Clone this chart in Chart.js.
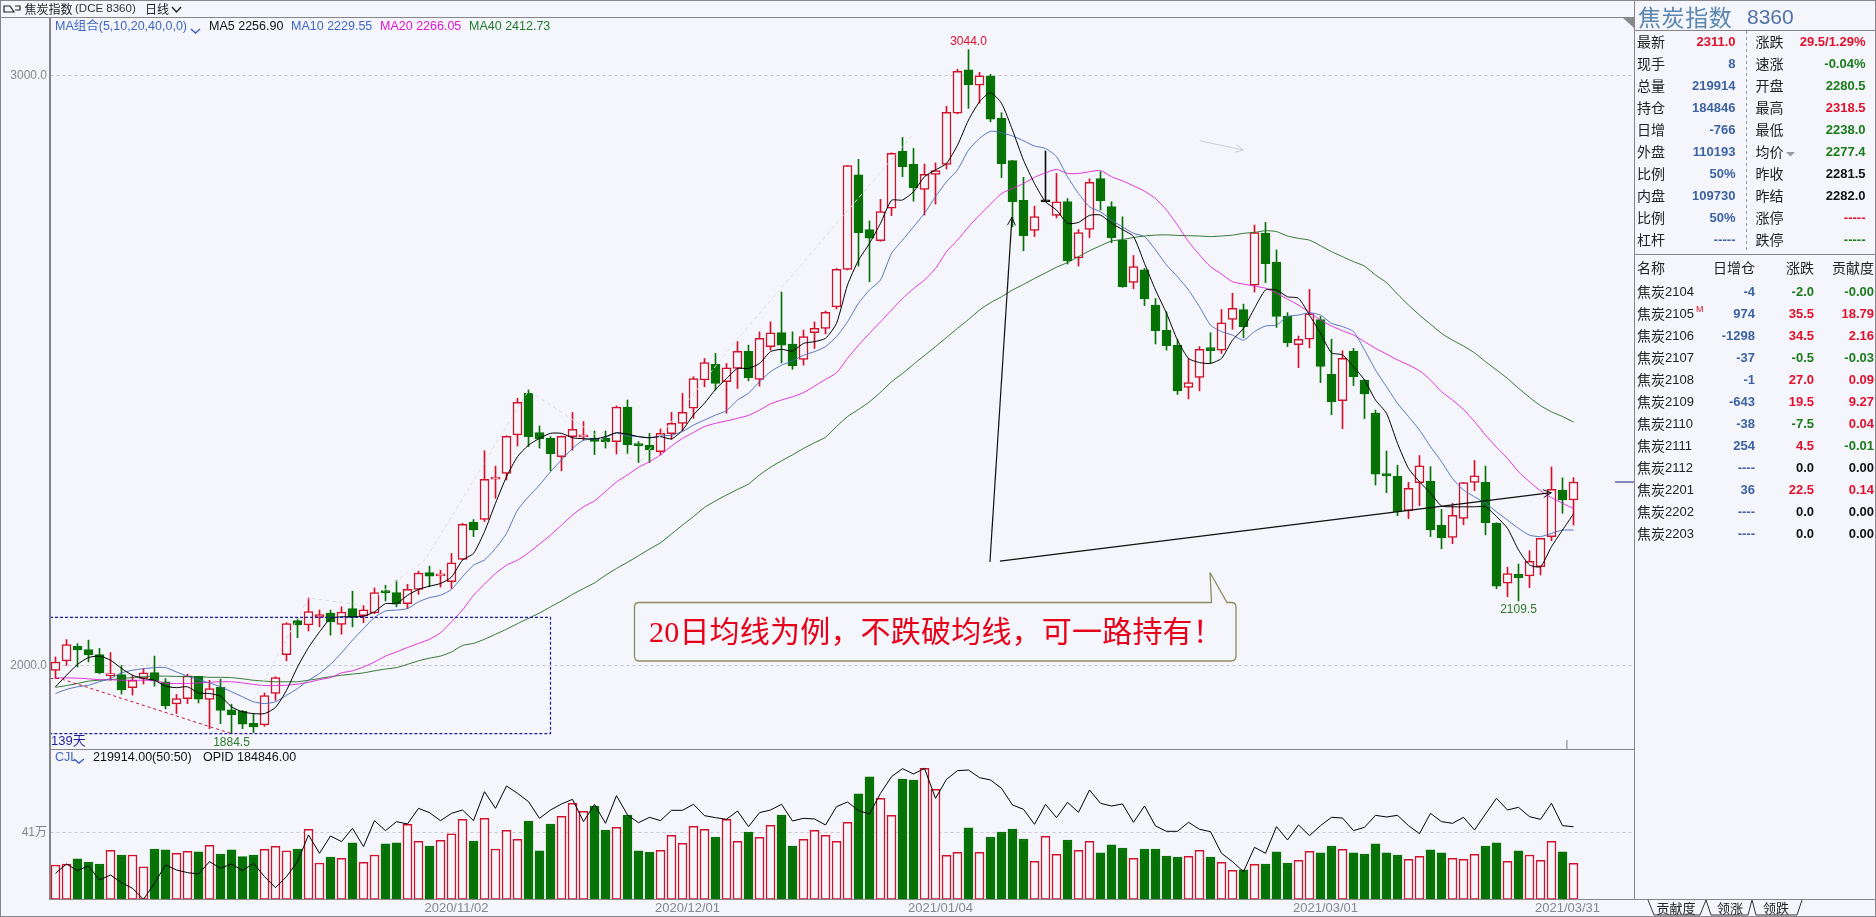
<!DOCTYPE html>
<html lang="zh">
<head>
<meta charset="utf-8">
<title>焦炭指数 日线</title>
<script src="https://cdn.jsdelivr.net/npm/chart.js@4"></script>
<style>
  html, body { margin: 0; padding: 0; background: #f5f6fb; }
  body { width: 1876px; height: 917px; position: relative; overflow: hidden; font-family: "Liberation Sans", "Noto Sans CJK SC", sans-serif; }
  canvas { position: absolute; left: 0; }
  #priceChart { top: 18px; }
  #volumeChart { top: 749px; }
  #frame, #callout { position: absolute; left: 0; top: 0; pointer-events: none; }
  .t { position: absolute; white-space: nowrap; line-height: 1; transform: translateY(-50%); }
  .r { transform: translate(-100%, -50%); }
  .c { transform: translate(-50%, -50%); }
  .cn { font-family: "Noto Sans CJK SC", sans-serif; font-size: 14px; color: #222; }
  .v { font-weight: bold; font-size: 13px; }
  .legend { font-size: 12.5px; }
</style>
</head>
<body>
<canvas id="priceChart" width="1634" height="731" style="width:1634px;height:731px"></canvas>
<canvas id="volumeChart" width="1634" height="167" style="width:1634px;height:167px"></canvas>
<svg id="frame" width="1876" height="917"></svg>
<svg id="callout" width="1876" height="917">
  <path d="M639 602.5 H1211.5 L1210 572.5 L1227 602.5 H1231 Q1236 602.5 1236 607 V656 Q1236 661 1231 661 H639 Q634.5 661 634.5 656 V607 Q634.5 602.5 639 602.5 Z" fill="#f5f6fb" stroke="#8f8a60" stroke-width="1.3"/>
</svg>
<div id="texts"></div>
<script>
const sepDays = ["03","04","07","08","09","10","11","14","15","16","17","18","21","22","23","24","25","28","29","30"];
const octDays = ["09","12","13","14","15","16","19","20","21","22","23","26","27","28","29","30"];
const novDays = ["02","03","04","05","06","09","10","11","12","13","16","17","18","19","20","23","24","25","26","27","30"];
const decDays = ["01","02","03","04","07","08","09","10","11","14","15","16","17","18","21","22","23","24","25","28","29","30","31"];
const janDays = ["04","05","06","07","08","11","12","13","14","15","18","19","20","21","22","25","26","27","28","29"];
const febDays = ["01","02","03","04","05","08","09","10","18","19","22","23","24","25","26"];
const marDays = ["01","02","03","04","05","08","09","10","11","12","15","16","17","18","19","22","23","24","25","26","29","30","31"];
const tradingDates = [
  ...sepDays.map((d) => "2020/09/" + d), ...octDays.map((d) => "2020/10/" + d),
  ...novDays.map((d) => "2020/11/" + d), ...decDays.map((d) => "2020/12/" + d),
  ...janDays.map((d) => "2021/01/" + d), ...febDays.map((d) => "2021/02/" + d),
  ...marDays.map((d) => "2021/03/" + d), "2021/04/01",
];
const emptySlots = ["", "", "", "", ""];
const tickDates = ["2020/11/02", "2020/12/01", "2021/01/04", "2021/03/01", "2021/03/31"];
const priceTicks = [2000, 3000];

const opens = [1991.5,2008,2032.5,2027,2018.5,1983,1984.5,1962.5,1978,1988,1972.5,1935,1944,1981.5,1942.5,1963,1925,1922.5,1902,1899.5,1952.5,2018.5,2076,2069,2081.5,2089,2069.5,2096.5,2084.5,2089,2127,2123.5,2105,2129,2157.5,2152,2142,
  2180,2242.5,2247.5,2316,2325.5,2391,2461.5,2395,2385,2354,2388,2387.5,2385.5,2385.5,2379.5,2438,2376,2373,2362.5,2393,2410.5,2436,2484,2510.5,2481,2503.5,2532.5,2485,2540.5,2564.5,2545,2519,2564,2571.5,2608,2671.5,2831.5,2739,2720,2775,2871.5,2849.5,2807,2832.5,2849.5,2936,3009.5,2983.5,2999,2927.5,2856,2788.5,2737.5,2786,2763,2786.5,2691,2739,2825.5,2778,2721,2649.5,2670.5,2611,2568,2542.5,2471.5,2488.5,2539,2534.5,2586.5,
  2603.5,2644.5,2733,2684,2592,2544,2553,2586.5,2493.5,2449,2533,2484,2428,2325.5,2320.5,2262.5,2310,2312,2237.5,2217,2249.5,2310.5,2310.5,2241.5,2139.5,2154.5,2152,2167.5,2218.5,2297.5,2280.5];
const closes = [2006,2035.5,2026.5,2018,1987.5,1985,1958.5,1975,1987.5,1974,1931.5,1944,1982.5,1943,1961,1924,1916.5,1900.5,1896,1949,1979.5,2071,2069,2091.5,2086.5,2074,2090.5,2081.5,2094.5,2123.5,2123,2104.5,2129,2156.5,2151.5,2154,2174,
  2239.5,2230,2315.5,2319,2388.5,2446,2388,2384,2359,2388.5,2400.5,2390,2380,2379.5,2438,2374.5,2372.5,2365.5,2393.5,2410.5,2429,2486.5,2513.5,2478,2504.5,2532.5,2488,2554.5,2564,2543,2508,2557.5,2571.5,2598.5,2671.5,2847.5,2733.5,2724.5,2769.5,2868,2845.5,2810,2832.5,2839,2937.5,3007,2984.5,2999.5,2926,2850.5,2786,2728.5,2761,2786,2786,2686,2734,2819,2788,2725,2642,2676,2621.5,2567.5,2542,2465.5,2479.5,2536,2533.5,2581,2605.5,
  2574.5,2734,2681,2591.5,2547,2553,2596,2507,2447,2520.5,2489.5,2460.5,2324.5,2321.5,2260.5,2300.5,2338.5,2230,2216.5,2254.5,2310,2321.5,2242,2134.5,2156,2149,2176.5,2215.5,2298.5,2280.5,2311];
const highs = [2014.5,2044,2037,2043,2029,2022,2000,1983.5,1995,2016,1978,1951,1985.5,1981.5,1975,1977,1934.5,1924,1918.5,1953.5,1981,2072.5,2081.5,2114.5,2094,2094,2099.5,2126,2102,2131.5,2136,2144.5,2137.5,2160,2168.5,2161.5,2190,
  2241,2247.5,2364,2338,2389.5,2453,2467,2406,2388,2389,2429,2413.5,2397.5,2397.5,2440,2450,2379.5,2393.5,2401,2429,2461.5,2489.5,2520.5,2529,2512,2549,2543,2565.5,2582.5,2633,2565.5,2568.5,2582.5,2601,2673,2847.5,2858,2753.5,2790,2869,2895,2876.5,2850,2852,2948,3010.5,3044,3005.5,3002,2937,2856,2827.5,2778.5,2872,2834,2791.5,2739,2825,2837,2786,2760.5,2695,2673,2622,2599.5,2552.5,2520.5,2540.5,2564,2603.5,2631,
  2612.5,2746.5,2751,2704.5,2598,2558.5,2637.5,2591.5,2553,2533.5,2537.5,2484,2433,2363.5,2339.5,2310.5,2356,2337,2264.5,2275,2310.5,2347.5,2338,2242,2166.5,2172,2194.5,2215.5,2336.5,2318,2318.5];
const lows = [1978,2000,1997.5,2006,1986,1975,1951.5,1950,1968.5,1965,1926.5,1918.5,1935.5,1936.5,1893,1901.5,1884.5,1893,1886.5,1897,1941,2008,2047,2058.5,2065.5,2051.5,2053,2065.5,2072.5,2088,2109.5,2099.5,2096.5,2120.5,2133.5,2133,2130.5,
  2179,2218.5,2244,2283.5,2314.5,2372,2371,2368.5,2330,2330,2365,2382,2357.5,2368.5,2358.5,2359.5,2344,2344,2357,2383.5,2398,2419,2472.5,2467,2427.5,2469.5,2482.5,2473.5,2534.5,2513,2502,2509,2537.5,2562,2604.5,2670.5,2677,2650.5,2719,2762.5,2828.5,2787,2763.5,2782,2841.5,2935,2944.5,2953,2921.5,2827,2743.5,2703,2727,2786,2758.5,2680.5,2677,2725,2772,2716.5,2641,2638.5,2610,2545,2534.5,2459.5,2452,2465.5,2512,2529,2570,
  2555.5,2633,2649,2573,2540.5,2505,2538.5,2479.5,2425,2401.5,2474.5,2418.5,2306,2293,2254,2249,2271,2218.5,2198,2206.5,2238.5,2296.5,2221.5,2130,2116.5,2109.5,2132,2153.5,2211.5,2258,2238];

const ma5 = [1964,1983.5,2002,2013.5,2016,2009,1995,1983.5,1978,1975,1965,1962.5,1964,1953.5,1952.5,1948,1930,1921.5,1918.5,1918.5,1929,1958,1997.5,2030.5,2057,2079.5,2082.5,2082.5,2083.5,2091,2105,2105,2119,2129,2134.5,2139,2150,2178.5,
  2190,2227,2275,2320,2354,2373.5,2385,2393.5,2393.5,2386,2384.5,2384,2388,2394.5,2392,2388,2386,2388,2384,2399,2425,2444.5,2468,2486.5,2503.5,2503.5,2512,2532,2536,2533,2546,2549,2554.5,2580,2645,2687,2715.5,2749.5,2788.5,2789,2803,2828.5,2840,2851,2882,2924.5,2955.5,2971,2953,2907.5,2856.5,2817,2786,2772,2749.5,2751,2763,2763.5,2749.5,2739,2727,
  2681.5,2636.5,2597,2551.5,2520.5,2513.5,2512,2520.5,2551.5,2571.5,2605.5,2636.5,2636.5,2625,2622.5,2594,2563,2530,2526.5,2506.5,2484,2450,2427.5,2376.5,2334,2311.5,2292,2270.5,2269,2269,2269,2269,2252.5,2232.5,2196,2170.5,2167.5,2201.5,2229.5,2256.9];
const ma10 = [1952.5,1959.5,1964,1966.5,1972.5,1978,1987.5,1992,1994.5,1996.5,1996.5,1989,1982,1976,1970.5,1964,1955.5,1947,1938.5,1935.5,1938.5,1949.5,1961,1975,1986.5,2002,2021.5,2043,2062.5,2081.5,2092.5,2094,2096.5,2108,2115,2119,2129,2150.5,2170,
  2179,2198.5,2224,2263.5,2286,2306,2328.5,2348.5,2368,2382,2383.5,2386.5,2394.5,2389.5,2388,2386,2389,2390.5,2396.5,2407.5,2416,2424.5,2432,2450,2461.5,2481,2498,2509,2516.5,2526,2532,2540.5,2557.5,2582.5,2614,2636.5,2653.5,2698.5,2721,2743.5,2766.5,2794.5,2820,2840,2873.5,2893.5,2905.5,2903,2897.5,2889.5,2880.5,2876.5,2862.5,2828.5,2800,2777.5,2769,2755,2743.5,2732.5,
  2727,2704.5,2679,2659,2636.5,2608,2577,2566,2560,2551.5,2566,2575.5,2577,2591.5,2594,2598,2594,2580,2574.5,2566,2535,2501,2472.5,2444.5,2422,2399,2371,2345.5,2317,2297.5,2286,2275,2260.5,2246.5,2232.5,2221,2218.5,2224,2229.5,2229.55];
const ma20 = [1979,1979,1978.5,1977.5,1976,1976,1975,1975,1975,1974.5,1970,1969.5,1969.5,1970.5,1971.5,1972.5,1972.5,1970.5,1968,1966,1966,1966.5,1968.5,1971.5,1976,1979.5,1987.5,1991,1997.5,2006,2016,2023,2030.5,2037.5,2044.5,2055.5,2074,2094,2119,2138,2156,2170,2178.5,
  2191,2206,2221,2238,2255,2269,2279,2295,2311,2323,2336,2345.5,2357,2372,2385,2395,2405,2410.5,2414.5,2419,2424,2433,2443.5,2450,2455.5,2462.5,2473.5,2485,2496,2520.5,2543,2563,2582.5,2602.5,2622,2639,2653.5,2673,2701.5,2721,2743.5,2763.5,2782,2800,2808.5,2817,2827.5,2835,2841,2834,2834,2837,2839,2828.5,2821.5,2813,2804,2791.5,
  2772,2746.5,2718.5,2696,2676,2663.5,2650.5,2646.5,2643,2639.5,2631,2621,2611,2598.5,2585.5,2575.5,2567.5,2560,2549,2537.5,2528,2518,2509.5,2499.5,2484,2464,2450,2434,2413.5,2390.5,2370,2351,2328.5,2311.5,2296,2284.5,2275,2266.05];
const ma40 = [1963,1966,1969.5,1973.5,1975,1976,1978,1979.5,1981,1982,1982,1981.5,1981,1981,1980,1980,1979.5,1977.5,1975,1973.5,1972.5,1972.5,1972.5,1975,1978,1981,1983.5,1985.5,1987.5,1991,1994,1996.5,2002,2008,2012.5,2016,2023,2034,2037.5,2044.5,2053,2061.5,2071,2080,2089,2099.5,2109.5,2120.5,2130.5,2140,
  2153,2164.5,2175,2186,2197.5,2208,2223,2238,2252.5,2268,2279,2289,2298.5,2307.5,2323,2336,2347,2357,2368,2377.5,2387,2405,2422,2434,2447,2463,2481,2495,2510.5,2525.5,2540.5,2556,2571.5,2586.5,2602.5,2615,2625,2636.5,2646,2656,2665.5,2675,2683,2693,2703,2711.5,2719.5,2722,2725.5,2728,2729.5,2730,2729,2728.5,2728,2727,2728,2729.5,
  2732.5,2734,2737,2735.5,2728,2724,2721,2711.5,2701.5,2693,2684.5,2677,2662,2649,2629.5,2611,2594,2578.5,2563,2551.5,2541.5,2530,2515,2501,2486.5,2470,2454.5,2440.5,2430,2422,2412.73];

// volume and open interest in thousand lots
const volumes = [210,216,247,228,216,300,271,271,198,308,302,282,294,290,330,277,302,261,271,306,324,296,308,428,222,259,251,345,226,271,339,345,459,355,326,361,400,490,357,496,308,422,367,479,296,461,508,588,539,571,424,441,
  516,296,288,300,392,343,447,428,381,490,355,412,379,453,516,326,367,422,392,355,471,645,749,618,514,736,730,802,673,269,288,437,288,381,412,430,369,233,386,275,363,300,355,284,333,314,251,308,308,265,259,263,300,259,226,177,180,214,216,290,222,239,294,284,326,306,284,277,339,284,271,245,263,302,284,251,245,275,326,345,233,296,271,239,355,290,219.914];
const openInterest = [115,129,119,126,105,112.5,101,92.5,76,100,127.5,120,116,114,132.5,122.5,129,119,130,110,93.5,110,132.5,172.5,145,171,162.5,182.5,155,194,179,192.5,189,212.5,206,194,205,210,194,237.5,212.5,246,235,222.5,197.5,210,219,226,192.5,218.5,190,231.5,
  202.5,191,199,194,209.5,209.5,218.5,201.5,198.5,196,208.5,185,206,210,218.5,193.5,197.5,196.5,187.5,215,222,209,204,235,260,272,264,272.5,227.5,256,269,270,258.5,255,242.5,217.5,211,188.5,218.5,198.5,221.5,206.5,240,220,216,219,191.5,216,186,178,178,191.5,181,177.5,145,132.5,117.5,154,145,185,165,187.5,171.5,186.5,199,198,179,184,202,199.5,202,186.5,174.5,205,192.5,190,199,180,204,227.5,210,214,200,196,220,186.5,184.846];

const quoteRows = [
  ["最新", "2311.0", "red", "涨跌", "29.5/1.29%", "red"],
  ["现手", "8", "blue", "速涨", "-0.04%", "green"],
  ["总量", "219914", "blue", "开盘", "2280.5", "green"],
  ["持仓", "184846", "blue", "最高", "2318.5", "red"],
  ["日增", "-766", "blue", "最低", "2238.0", "green"],
  ["外盘", "110193", "blue", "均价", "2277.4", "green"],
  ["比例", "50%", "blue", "昨收", "2281.5", "black"],
  ["内盘", "109730", "blue", "昨结", "2282.0", "black"],
  ["比例", "50%", "blue", "涨停", "-----", "red"],
  ["杠杆", "-----", "blue", "跌停", "-----", "green"],
];
const contractNames = ["焦炭2104","焦炭2105","焦炭2106","焦炭2107","焦炭2108","焦炭2109","焦炭2110","焦炭2111","焦炭2112","焦炭2201","焦炭2202","焦炭2203"];
const contractOpenChange = ["-4","974","-1298","-37","-1","-643","-38","254","----","36","----","----"];
const contractChange = ["-2.0","35.5","34.5","-0.5","27.0","19.5","-7.5","4.5","0.0","22.5","0.0","0.0"];
const contractWeight = ["-0.00","18.79","2.16","-0.03","0.09","9.27","0.04","-0.01","0.00","0.14","0.00","0.00"];

const BG = "#f5f6fb";
const RED = "#d40f2a";
const GREEN = "#067206";
const AXIS = "#85858b";
const colorNames = { red: "#e0102c", blue: "#3d62a3", green: "#1a7a1a", black: "#111" };
const labels = [...tradingDates, ...emptySlots];
const isFlat = (i) => opens[i] === closes[i];
const isUp = (i) => closes[i] >= opens[i];
const candleColor = (i) => (isFlat(i) ? "#111" : isUp(i) ? RED : GREEN);
const indexes = opens.map((v, i) => i);

function fixAxis(width) {
  return (scale) => {
    scale.width = width;
    scale.paddingTop = 0;
    scale.paddingBottom = 0;
  };
}

const annotations = {
  id: "annotations",
  afterDatasetsDraw(chart) {
    const { ctx, scales, chartArea } = chart;
    const px = (i) => scales.x.getPixelForValue(0) + i * (scales.x.getPixelForValue(1) - scales.x.getPixelForValue(0));
    const py = (p) => scales.y.getPixelForValue(p);
    const polyline = (pts, color, width, dash) => {
      ctx.save();
      ctx.strokeStyle = color;
      ctx.lineWidth = width;
      ctx.setLineDash(dash || []);
      ctx.beginPath();
      pts.forEach((p, k) => (k ? ctx.lineTo(px(p[0]), py(p[1])) : ctx.moveTo(px(p[0]), py(p[1]))));
      ctx.stroke();
      ctx.restore();
    };
    const arrow = (from, to, color, width) => {
      polyline([from, to], color, width);
      const x = px(to[0]), y = py(to[1]);
      const a = Math.atan2(y - py(from[1]), x - px(from[0]));
      ctx.save();
      ctx.strokeStyle = color;
      ctx.lineWidth = 1;
      ctx.beginPath();
      ctx.moveTo(x - 9 * Math.cos(a - 0.45), y - 9 * Math.sin(a - 0.45));
      ctx.lineTo(x, y);
      ctx.lineTo(x - 9 * Math.cos(a + 0.45), y - 9 * Math.sin(a + 0.45));
      ctx.stroke();
      ctx.restore();
    };
    const label = (text, i, y, color) => {
      ctx.save();
      ctx.font = "12px 'Liberation Sans'";
      ctx.fillStyle = color;
      ctx.textAlign = "center";
      ctx.textBaseline = "middle";
      ctx.fillText(text, px(i), y);
      ctx.restore();
    };

    // wave line, box and trend drawings
    polyline([[18, 1941], [23, 2114.5], [28, 2102], [33.6, 2179], [43, 2466], [53, 2343], [61.4, 2540], [77.9, 2899]], "#dcdcdc", 1, [4, 3]);
    polyline([[-0.5, 1978], [0.4, 1978], [16, 1884.5]], "#c8102e", 1, [3, 3]);
    polyline([[-0.5, 2081.7], [45, 2081.7], [45, 1884.5], [-0.5, 1884.5]], "#1c1c9c", 1.2, [3, 2]);
    arrow([84.95, 2175.4], [86.95, 2760], "#111", 1.2);
    arrow([85.86, 2177], [135.98, 2293], "#111", 1.2);
    arrow([104, 2889.5], [108, 2873.7], "#cfcfcf", 1);

    label("3044.0", 83, py(3044) - 8, "#d9102e");
    label("1884.5", 16, py(1884.5) + 9, "#2c7a2c");
    label("2109.5", 133, py(2109.5) + 8.5, "#2c7a2c");

    // current price marker and the small date tick
    ctx.save();
    ctx.strokeStyle = "#16167e";
    ctx.beginPath();
    ctx.moveTo(chartArea.right - 19, py(closes[138]));
    ctx.lineTo(chartArea.right, py(closes[138]));
    ctx.stroke();
    ctx.strokeStyle = "#777";
    ctx.beginPath();
    ctx.moveTo(px(137.4), chartArea.bottom - 9);
    ctx.lineTo(px(137.4), chartArea.bottom);
    ctx.stroke();
    ctx.restore();
  },
};

const sharedX = {
  type: "category",
  offset: true,
  grid: { display: false, drawTicks: false },
  border: { display: false },
};
const dashedGrid = { color: "#c6c6cc", drawTicks: false, tickBorderDash: [0, 0] };
const common = {
  responsive: false,
  animation: false,
  devicePixelRatio: 1,
  layout: { padding: 0 },
  plugins: { legend: { display: false }, tooltip: { enabled: false } },
  events: [],
};

new Chart(document.getElementById("priceChart"), {
  data: {
    labels: labels,
    datasets: [
      {
        type: "bar", order: 6, grouped: false, barThickness: 1,
        data: indexes.map((i) => [lows[i], highs[i]]),
        backgroundColor: indexes.map(candleColor),
      },
      {
        type: "bar", order: 5, grouped: false, barThickness: 9, minBarLength: 2,
        data: indexes.map((i) => [opens[i], closes[i]]),
        backgroundColor: indexes.map((i) => (isFlat(i) ? "#111" : isUp(i) ? BG : GREEN)),
        borderColor: indexes.map(candleColor),
        borderWidth: 1.5,
        borderSkipped: false,
      },
      { type: "line", order: 4, data: ma40, borderColor: "#1f6b1f", borderWidth: 0.9, pointRadius: 0, tension: 0.2 },
      { type: "line", order: 3, data: ma20, borderColor: "#e020d8", borderWidth: 0.9, pointRadius: 0, tension: 0.2 },
      { type: "line", order: 2, data: ma10, borderColor: "#4668b8", borderWidth: 0.9, pointRadius: 0, tension: 0.2 },
      { type: "line", order: 1, data: ma5, borderColor: "#000", borderWidth: 1, pointRadius: 0, tension: 0.2 },
    ],
  },
  options: {
    ...common,
    scales: {
      x: { ...sharedX, display: false },
      y: {
        min: 1858.5,
        max: 3097.5,
        afterBuildTicks: (scale) => { scale.ticks = priceTicks.map((v) => ({ value: v })); },
        afterFit: fixAxis(50),
        ticks: { padding: 3, color: "#85858b", font: { size: 12, family: "Liberation Sans" }, callback: (v) => v.toFixed(1) },
        grid: dashedGrid,
        border: { color: AXIS, width: 1.5, dash: [3, 3] },
      },
    },
  },
  plugins: [annotations],
});

new Chart(document.getElementById("volumeChart"), {
  data: {
    labels: labels,
    datasets: [
      {
        type: "bar", order: 2, yAxisID: "y", barThickness: 9,
        data: volumes,
        backgroundColor: indexes.map((i) => (isUp(i) ? BG : GREEN)),
        borderColor: indexes.map((i) => (isUp(i) ? RED : GREEN)),
        borderWidth: 1.5,
        borderSkipped: false,
      },
      { type: "line", order: 1, yAxisID: "oi", data: openInterest, borderColor: "#000", borderWidth: 1, pointRadius: 0 },
    ],
  },
  options: {
    ...common,
    scales: {
      x: {
        ...sharedX,
        afterFit: (scale) => { scale.height = 16.7; },
        ticks: {
          autoSkip: false,
          maxRotation: 0,
          padding: 1,
          labelOffset: 5,
          color: "#85858b",
          font: { size: 13, family: "Liberation Sans" },
          callback(value) {
            const label = this.getLabelForValue(value);
            return tickDates.includes(label) ? label : "";
          },
        },
      },
      y: {
        min: 0,
        max: 919.7,
        afterBuildTicks: (scale) => { scale.ticks = [{ value: 410 }]; },
        afterFit: fixAxis(50),
        ticks: { padding: 3, color: "#85858b", font: { size: 12, family: "Liberation Sans, Noto Sans CJK SC" }, callback: () => "41万" },
        grid: dashedGrid,
        border: { color: AXIS, width: 1.5, dash: [3, 3] },
      },
      oi: { display: false, min: 76, max: 301.5 },
    },
  },
});

// frame lines
const frameLines = [
  [0.5, 0, 0.5, 917], [0, 0.5, 1876, 0.5], [0, 916.5, 1876, 916.5], [1875.5, 0, 1875.5, 917],
  [0, 17.5, 1634, 17.5], [50.5, 17.5, 50.5, 899.5], [50, 749.5, 1634, 749.5], [50, 899.5, 1876, 899.5],
  [1634.5, 0, 1634.5, 899.5], [1634, 30.5, 1876, 30.5], [1634, 254.5, 1876, 254.5],
];
const frame = document.getElementById("frame");
let svg = frameLines.map((l) => `<line x1="${l[0]}" y1="${l[1]}" x2="${l[2]}" y2="${l[3]}" stroke="${AXIS}" stroke-width="1"/>`).join("");
svg += `<line x1="1746.5" y1="31" x2="1746.5" y2="252" stroke="#999" stroke-dasharray="3 3"/>`;
svg += `<path d="M1623 18 H1634 V28 Z" fill="#8a8a8a"/>`;
svg += `<path d="M1648 900 L1654 915 H1700 L1706 900 M1706 900 L1711 915 H1748 L1752 900 M1752 900 L1756 915 H1797 L1802 900" fill="${BG}" stroke="#333" stroke-width="1"/>`;
svg += `<path d="M4 6 H10 L14 12 H4 Z M15 6 H20 V10 H15" fill="none" stroke="#222" stroke-width="1.2"/>`;
svg += `<path d="M172 7 L176.5 12 L181 7" fill="none" stroke="#222" stroke-width="1.4"/>`;
svg += `<path d="M191 29 L195.5 33 L200 29 M74 759 L79 763 L84 759" fill="none" stroke="#3a5cc0" stroke-width="1.4"/>`;
svg += `<path d="M1786 152 H1795 L1790.5 156.5 Z" fill="#999"/>`;
frame.innerHTML = svg;

// texts
const box = document.getElementById("texts");
function put(text, x, y, cls, style) {
  const el = document.createElement("div");
  el.className = "t " + (cls || "");
  el.textContent = text;
  el.style.left = x + "px";
  el.style.top = y + "px";
  if (style) el.style.cssText += style;
  box.appendChild(el);
}
put("焦炭指数", 24.5, 9, "cn", "font-size:12px;");
put("(DCE 8360)", 75, 9, "", "font-size:11.5px;color:#333;");
put("日线", 145, 9, "cn", "font-size:12px;");
put("MA组合(5,10,20,40,0,0)", 55, 25.5, "legend", "color:#3f66c4;");
put("MA5 2256.90", 209, 25.5, "legend", "color:#111;");
put("MA10 2229.55", 291, 25.5, "legend", "color:#3f66c4;");
put("MA20 2266.05", 380, 25.5, "legend", "color:#e018d0;");
put("MA40 2412.73", 469, 25.5, "legend", "color:#1f7a2c;");
put("139天", 51, 740, "", "font-size:13px;color:#1c1c9c;");
put("CJL", 55, 757, "legend", "color:#3f66c4;");
put("219914.00(50:50)", 93, 757, "legend", "color:#111;");
put("OPID 184846.00", 203, 757, "legend", "color:#111;");
put("20日均线为例，不跌破均线，可一路持有！", 649, 632, "", "font-family:'Liberation Serif','Noto Sans CJK SC',serif;font-size:30px;letter-spacing:0.2px;color:#e6001a;");

put("焦炭指数", 1638, 16, "cn", "font-size:23px;color:#5a86b0;letter-spacing:0.6px;");
put("8360", 1747, 16, "", "font-size:21px;color:#4f73aa;");
quoteRows.forEach((row, k) => {
  const y = 41 + k * 22;
  put(row[0], 1637, y, "cn");
  put(row[1], 1735.5, y, "r v", `color:${colorNames[row[2]]};`);
  put(row[3], 1755.5, y, "cn");
  put(row[4], 1865.5, y, "r v", `color:${colorNames[row[5]]};`);
});
put("名称", 1637, 267, "cn");
put("日增仓", 1755, 267, "r cn");
put("涨跌", 1814, 267, "r cn");
put("贡献度", 1874, 267, "r cn");
const signColor = (s) => (parseFloat(s) > 0 ? colorNames.red : parseFloat(s) < 0 ? colorNames.green : s.startsWith("-") ? colorNames.green : colorNames.black);
contractNames.forEach((name, k) => {
  const y = 290.5 + k * 22;
  put(name.slice(0, 2), 1637, y, "cn");
  put(name.slice(2), 1665, y, "", "font-size:13px;color:#222;");
  put(contractOpenChange[k], 1755, y, "r v", `color:${colorNames.blue};`);
  put(contractChange[k], 1814, y, "r v", `color:${signColor(contractChange[k])};`);
  put(contractWeight[k], 1874, y, "r v", `color:${k === 6 ? colorNames.red : signColor(contractWeight[k])};`);
});
put("M", 1696, 309, "", "font-size:9px;color:#e0102c;");
put("贡献度", 1676, 907, "c cn", "font-size:13px;");
put("领涨", 1730, 907, "c cn", "font-size:13px;");
put("领跌", 1776, 907, "c cn", "font-size:13px;");
</script>
</body>
</html>
